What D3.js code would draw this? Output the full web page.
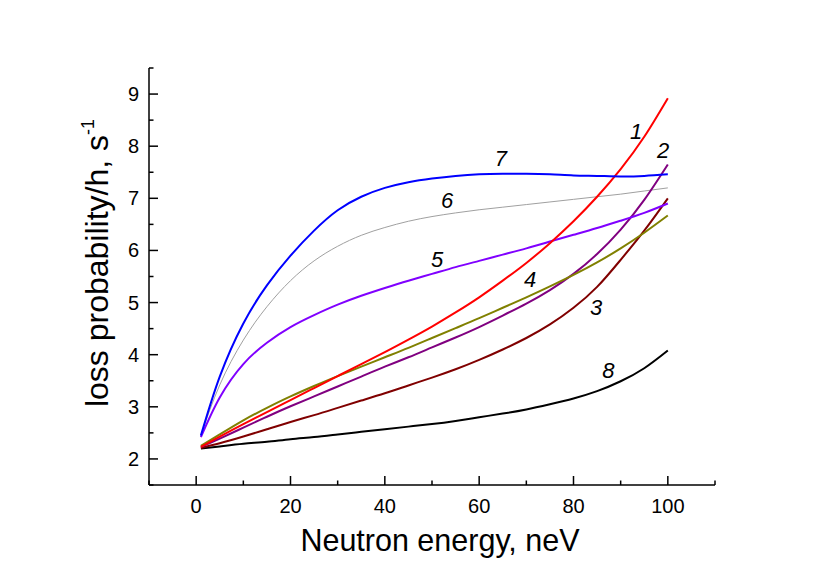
<!DOCTYPE html>
<html><head><meta charset="utf-8">
<script src="https://cdn.jsdelivr.net/npm/d3@7"></script>
<style>body{margin:0;background:#fff}svg{display:block}text{font-family:"Liberation Sans",Arial,sans-serif}</style>
</head><body><svg id="c" width="830" height="579"></svg>
<script>
const energy = [1, 5, 10, 15, 20, 25, 30, 35, 40, 45, 50, 55, 60, 65, 70, 75, 80, 85, 90, 95, 100];
const curve1 = [2.23, 2.43, 2.67, 2.9, 3.13, 3.36, 3.59, 3.82, 4.05, 4.29, 4.54, 4.81, 5.1, 5.42, 5.76, 6.14, 6.56, 7.03, 7.56, 8.18, 8.92];
const curve2 = [2.23, 2.39, 2.6, 2.81, 3.01, 3.2, 3.39, 3.58, 3.77, 3.95, 4.14, 4.33, 4.53, 4.75, 4.98, 5.24, 5.55, 5.93, 6.4, 6.97, 7.65];
const curve3 = [2.21, 2.3, 2.43, 2.57, 2.71, 2.84, 2.98, 3.12, 3.26, 3.41, 3.56, 3.72, 3.9, 4.1, 4.32, 4.58, 4.9, 5.3, 5.82, 6.38, 7.0];
const curve4 = [2.25, 2.47, 2.74, 2.98, 3.2, 3.4, 3.59, 3.77, 3.95, 4.13, 4.32, 4.51, 4.7, 4.9, 5.1, 5.31, 5.53, 5.77, 6.04, 6.34, 6.67];
const curve5 = [2.42, 3.18, 3.82, 4.23, 4.53, 4.76, 4.96, 5.13, 5.28, 5.42, 5.55, 5.68, 5.8, 5.92, 6.04, 6.17, 6.3, 6.43, 6.57, 6.72, 6.9];
const curve6 = [2.45, 3.42, 4.28, 4.92, 5.42, 5.8, 6.08, 6.29, 6.44, 6.56, 6.65, 6.72, 6.78, 6.83, 6.88, 6.93, 6.98, 7.03, 7.08, 7.14, 7.2];
const curve7 = [2.45, 3.58, 4.6, 5.33, 5.9, 6.38, 6.77, 7.03, 7.2, 7.31, 7.38, 7.43, 7.46, 7.47, 7.47, 7.46, 7.44, 7.43, 7.42, 7.43, 7.46];
const curve8 = [2.2, 2.24, 2.29, 2.33, 2.38, 2.42, 2.47, 2.52, 2.57, 2.62, 2.67, 2.73, 2.8, 2.87, 2.95, 3.05, 3.16, 3.3, 3.49, 3.74, 4.08];
const curveNames = ["1", "2", "3", "4", "5", "6", "7", "8"];
const curveColors = ["#ff0000", "#800080", "#800000", "#808000", "#8000ff", "#a0a0a0", "#0000ff", "#000000"];
const curveWidths = [2, 2, 2, 2, 2, 1, 2, 2];
const labelX = [93.3, 99.0, 84.8, 70.8, 51.1, 53.2, 64.6, 87.4];
const labelY = [8.3, 7.92, 4.91, 5.46, 5.83, 6.96, 7.77, 3.7];
const xTicks = [0, 20, 40, 60, 80, 100];
const yTicks = [2, 3, 4, 5, 6, 7, 8, 9];
const xTitle = "Neutron energy, neV";
const yTitle = "loss probability/h, s";

const series = [curve1, curve2, curve3, curve4, curve5, curve6, curve7, curve8];
const svg = d3.select("#c");
const x = d3.scaleLinear().domain([-10, 110]).range([149, 715]);
const y = d3.scaleLinear().domain([1.5, 9.5]).range([485, 68]);

const line = d3.line().x((d, i) => x(energy[i])).y(d => y(d)).curve(d3.curveNatural);
const order = [5, 7, 2, 1, 3, 4, 0, 6];
order.forEach(k => {
  svg.append("path").attr("d", line(series[k])).attr("fill", "none")
    .attr("stroke", curveColors[k]).attr("stroke-width", curveWidths[k]);
});

const xMinor = d3.range(-10, 111, 10).filter(v => !xTicks.includes(v));
const yMinor = d3.range(1.5, 9.6, 1);
const ax = svg.append("g").attr("stroke", "#000").attr("stroke-width", 1.5);
ax.append("line").attr("x1", x(-10)).attr("x2", x(110)).attr("y1", y(1.5)).attr("y2", y(1.5));
ax.append("line").attr("x1", x(-10)).attr("x2", x(-10)).attr("y1", y(1.5)).attr("y2", y(9.5));
xTicks.forEach(t => ax.append("line").attr("x1", x(t)).attr("x2", x(t)).attr("y1", y(1.5)).attr("y2", y(1.5) - 9));
xMinor.forEach(t => ax.append("line").attr("x1", x(t)).attr("x2", x(t)).attr("y1", y(1.5)).attr("y2", y(1.5) - 4.5));
yTicks.forEach(t => ax.append("line").attr("x1", x(-10)).attr("x2", x(-10) + 9).attr("y1", y(t)).attr("y2", y(t)));
yMinor.forEach(t => ax.append("line").attr("x1", x(-10)).attr("x2", x(-10) + 4.5).attr("y1", y(t)).attr("y2", y(t)));

svg.selectAll(".xl").data(xTicks).join("text").attr("x", d => x(d)).attr("y", y(1.5) + 28)
  .attr("text-anchor", "middle").attr("font-size", 20).text(d => d);
svg.selectAll(".yl").data(yTicks).join("text").attr("x", x(-10) - 10).attr("y", d => y(d) + 7)
  .attr("text-anchor", "end").attr("font-size", 20).text(d => d);

svg.append("text").attr("x", 440).attr("y", 551).attr("text-anchor", "middle")
  .attr("font-size", 30.5).text(xTitle);
const yt = svg.append("text").attr("transform", "translate(108," + 263 + ") rotate(-90)")
  .attr("text-anchor", "middle").attr("font-size", 32);
yt.append("tspan").text(yTitle);
yt.append("tspan").attr("font-size", 18).attr("dy", -14).text("-1");

curveNames.forEach((n, k) => {
  svg.append("text").attr("x", x(labelX[k])).attr("y", y(labelY[k]) + 8).attr("text-anchor", "middle")
    .attr("font-size", 22).attr("font-style", "italic").text(n);
});
</script></body></html>
